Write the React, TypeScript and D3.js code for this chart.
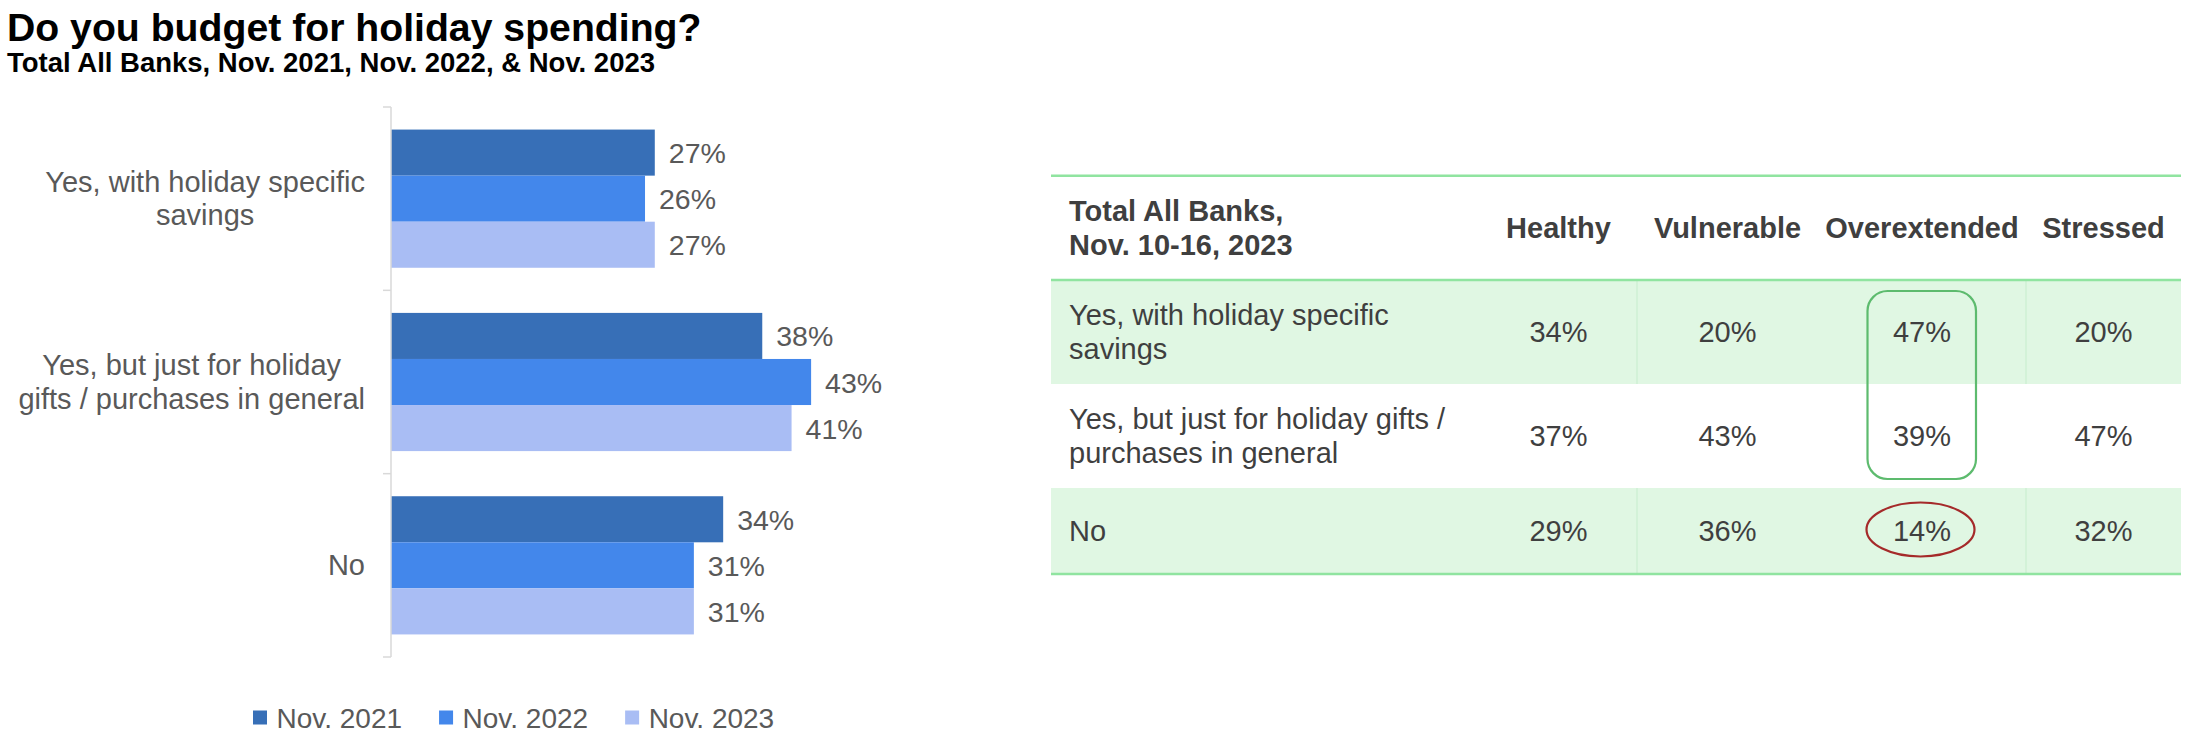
import { useEffect, useRef } from "react";
import * as d3 from "d3";

// left chart data
const categories = [
  "Yes, with holiday specific savings",
  "Yes, but just for holiday gifts / purchases in general",
  "No",
];
const categoryLines = [
  ["Yes, with holiday specific", "savings"],
  ["Yes, but just for holiday", "gifts / purchases in general"],
  ["No"],
];
const seriesNames = ["Nov. 2021", "Nov. 2022", "Nov. 2023"];
const nov2021 = [27, 38, 34];
const nov2022 = [26, 43, 31];
const nov2023 = [27, 41, 31];
const seriesColors = ["#376FB7", "#4387EB", "#A9BDF4"];

// right table data
const tableTitle = ["Total All Banks,", "Nov. 10-16, 2023"];
const segments = ["Healthy", "Vulnerable", "Overextended", "Stressed"];
const tableRowLines = [
  ["Yes, with holiday specific", "savings"],
  ["Yes, but just for holiday gifts /", "purchases in general"],
  ["No"],
];
const healthy = [34, 37, 29];
const vulnerable = [20, 43, 36];
const overextended = [47, 39, 14];
const stressed = [20, 47, 32];

const FONT = "'Liberation Sans', Arial, sans-serif";

export default function App() {
  const svgRef = useRef<SVGSVGElement | null>(null);

  useEffect(() => {
    if (!svgRef.current) return;
    const svg = d3.select(svgRef.current);
    svg.selectAll("*").remove();
    svg.style("font-family", FONT);

    // titles
    svg.append("text").attr("x", 7).attr("y", 41)
      .attr("font-size", 39.2).attr("font-weight", "bold").attr("fill", "#000")
      .text("Do you budget for holiday spending?");
    svg.append("text").attr("x", 7).attr("y", 72)
      .attr("font-size", 27.5).attr("font-weight", "bold").attr("fill", "#000")
      .text("Total All Banks, Nov. 2021, Nov. 2022, & Nov. 2023");

    // ---------- bar chart ----------
    const values = [nov2021, nov2022, nov2023];
    const y0 = d3.scaleBand<string>().domain(categories).range([107, 657]);
    const y1 = d3.scaleBand<string>().domain(seriesNames)
      .range([0, y0.bandwidth()]).paddingInner(0).paddingOuter(0.49);
    const x = d3.scaleLinear().domain([0, 50]).range([391, 879.5]);

    const chart = svg.append("g");

    categories.forEach((c, ci) => {
      seriesNames.forEach((s, si) => {
        const v = values[si][ci];
        const yy = (y0(c) ?? 0) + (y1(s) ?? 0);
        chart.append("rect")
          .attr("x", x(0)).attr("y", yy)
          .attr("width", x(v) - x(0)).attr("height", y1.bandwidth())
          .attr("fill", seriesColors[si]);
        chart.append("text")
          .attr("x", x(v) + 14).attr("y", yy + y1.bandwidth() / 2 + 10.5)
          .attr("font-size", 28.5).attr("fill", "#595959")
          .text(`${v}%`);
      });
    });

    // axis line with ticks at band edges
    const [r0, r1] = y0.range();
    chart.append("line").attr("x1", x(0)).attr("x2", x(0)).attr("y1", r0).attr("y2", r1)
      .attr("stroke", "#D9D9D9").attr("stroke-width", 1.5);
    const edges = categories.map(c => y0(c) ?? 0).concat([r1]);
    edges.forEach(e => {
      chart.append("line").attr("x1", x(0) - 8).attr("x2", x(0)).attr("y1", e).attr("y2", e)
        .attr("stroke", "#D9D9D9").attr("stroke-width", 1.5);
    });

    // category labels: lines centered, widest line ends at 365
    categories.forEach((c, ci) => {
      const lines = categoryLines[ci];
      const center = (y0(c) ?? 0) + y0.bandwidth() / 2;
      const lh = 33.3;
      const g = chart.append("g");
      const texts = lines.map((l, li) =>
        g.append("text")
          .attr("y", center - ((lines.length - 1) * lh) / 2 + li * lh + 10)
          .attr("text-anchor", "middle")
          .attr("font-size", 29).attr("fill", "#595959")
          .text(l)
      );
      const maxW = d3.max(texts, t => (t.node() as SVGTextElement).getComputedTextLength()) || 0;
      texts.forEach(t => t.attr("x", 365 - maxW / 2));
    });

    // legend
    let lx = 253;
    seriesNames.forEach((s, si) => {
      chart.append("rect").attr("x", lx).attr("y", 710.5).attr("width", 14).attr("height", 14)
        .attr("fill", seriesColors[si]);
      const t = chart.append("text").attr("x", lx + 23.5).attr("y", 728.3)
        .attr("font-size", 28).attr("fill", "#595959").text(s);
      const w = (t.node() as SVGTextElement).getComputedTextLength();
      lx += 23.5 + w + 37;
    });

    // ---------- table ----------
    const table = svg.append("g");
    const tx0 = 1051, tx1 = 2181;
    const colEdges = [1480, 1637, 1818, 2026, 2181];
    const colCenter = (i: number) => (colEdges[i] + colEdges[i + 1]) / 2;
    const headerTop = 175.7, headerBottom = 280;
    const rowHeights = tableRowLines.map(l => (l.length > 1 ? 104 : 86));
    const rowTops: number[] = [];
    rowHeights.reduce((acc, h) => { rowTops.push(acc); return acc + h; }, headerBottom);
    const tableBottom = rowTops[rowTops.length - 1] + rowHeights[rowHeights.length - 1];
    const lineGreen = "#90E4A0";
    const textCol = "#3F3F3F";
    const lh = 33.3;
    const cols = [healthy, vulnerable, overextended, stressed];

    // row backgrounds
    tableRowLines.forEach((_, ri) => {
      if (ri % 2 === 0) {
        table.append("rect").attr("x", tx0).attr("y", rowTops[ri])
          .attr("width", tx1 - tx0).attr("height", rowHeights[ri]).attr("fill", "#E0F7E3");
        [colEdges[1], colEdges[3]].forEach(cx => {
          table.append("line").attr("x1", cx).attr("x2", cx)
            .attr("y1", rowTops[ri]).attr("y2", rowTops[ri] + rowHeights[ri])
            .attr("stroke", "#C6EDCD").attr("stroke-width", 1);
        });
      }
    });

    // horizontal rules
    [headerTop, headerBottom, tableBottom].forEach(yv => {
      table.append("line").attr("x1", tx0).attr("x2", tx1).attr("y1", yv).attr("y2", yv)
        .attr("stroke", lineGreen).attr("stroke-width", 2.5);
    });

    // header
    const headerMid = (headerTop + headerBottom) / 2;
    tableTitle.forEach((l, li) => {
      table.append("text").attr("x", 1069).attr("y", headerMid - lh / 2 + li * lh + 10)
        .attr("font-size", 29).attr("font-weight", "bold").attr("fill", textCol).text(l);
    });
    segments.forEach((s, si) => {
      table.append("text").attr("x", colCenter(si)).attr("y", headerMid + 10)
        .attr("text-anchor", "middle").attr("font-size", 29).attr("font-weight", "bold")
        .attr("fill", textCol).text(s);
    });

    // body
    tableRowLines.forEach((lines, ri) => {
      const mid = rowTops[ri] + rowHeights[ri] / 2;
      lines.forEach((l, li) => {
        table.append("text").attr("x", 1069)
          .attr("y", mid - ((lines.length - 1) * lh) / 2 + li * lh + 10)
          .attr("font-size", 29).attr("fill", textCol).text(l);
      });
      cols.forEach((col, ci) => {
        table.append("text").attr("x", colCenter(ci)).attr("y", mid + 10)
          .attr("text-anchor", "middle").attr("font-size", 29).attr("fill", textCol)
          .text(`${col[ri]}%`);
      });
    });

    // highlight: rounded box over first two Overextended cells
    const oc = colCenter(2);
    table.append("rect")
      .attr("x", oc - 54.5).attr("y", rowTops[0] + 11)
      .attr("width", 108.5).attr("height", rowTops[1] + rowHeights[1] - 9 - (rowTops[0] + 11))
      .attr("rx", 20).attr("ry", 20)
      .attr("fill", "none").attr("stroke", "#5DBB6E").attr("stroke-width", 2.2);
    // red ellipse round the last Overextended cell
    table.append("ellipse")
      .attr("cx", oc - 1.5).attr("cy", rowTops[2] + rowHeights[2] / 2 - 1.5)
      .attr("rx", 54).attr("ry", 27)
      .attr("fill", "none").attr("stroke", "#A52A2A").attr("stroke-width", 2.2);
  }, []);

  return (
    <svg
      ref={svgRef}
      width={2186}
      height={752}
      style={{ position: "absolute", left: 0, top: 0, background: "#ffffff" }}
    />
  );
}
